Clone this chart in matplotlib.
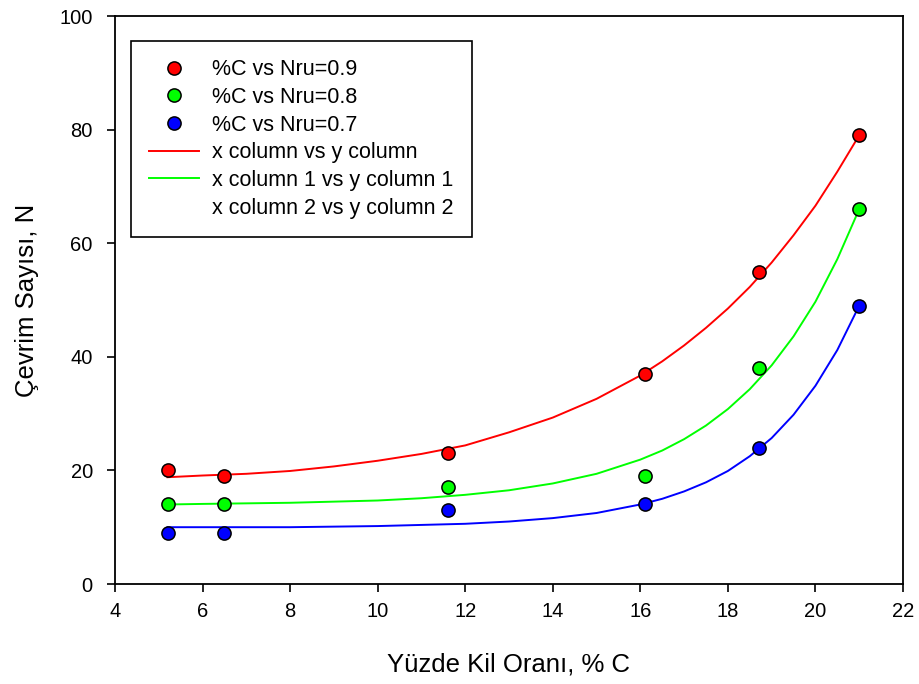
import matplotlib
matplotlib.use("Agg")
import matplotlib.pyplot as plt
from matplotlib.lines import Line2D

plt.rcParams['font.family'] = ['Liberation Sans', 'DejaVu Sans']

# Measured data points
clay_pct = [5.2, 6.5, 11.6, 16.1, 18.7, 21.0]
n_09 = [20, 19, 23, 37, 55, 79]
n_08 = [14, 14, 17, 19, 38, 66]
n_07 = [9, 9, 13, 14, 24, 49]

# Fitted curves
curve_x = [5.2, 6.0, 7.0, 8.0, 9.0, 10.0, 11.0, 12.0, 13.0, 14.0, 15.0, 16.0,
           16.5, 17.0, 17.5, 18.0, 18.5, 19.0, 19.5, 20.0, 20.5, 21.0]
curve_09 = [18.8, 19.1, 19.4, 19.9, 20.7, 21.7, 22.9, 24.4, 26.7, 29.3, 32.6, 36.7,
            39.2, 42.0, 45.1, 48.5, 52.3, 56.6, 61.4, 66.6, 72.6, 79.0]
curve_08 = [14.0, 14.1, 14.2, 14.3, 14.5, 14.7, 15.1, 15.7, 16.5, 17.7, 19.4, 21.9,
            23.5, 25.5, 27.9, 30.8, 34.3, 38.5, 43.6, 49.7, 57.2, 66.0]
curve_07 = [10.0, 10.0, 10.0, 10.0, 10.1, 10.2, 10.4, 10.6, 11.0, 11.6, 12.5, 14.0,
            15.0, 16.3, 17.9, 19.9, 22.5, 25.7, 29.8, 34.9, 41.2, 49.0]

x_ticks = [4, 6, 8, 10, 12, 14, 16, 18, 20, 22]
y_ticks = [0, 20, 40, 60, 80, 100]

fig = plt.figure(figsize=(9.2, 6.84), dpi=100)
ax = fig.add_axes([115/920, 1-584/684, 788/920, 568/684])

ax.plot(curve_x, curve_09, color='#ff0000', lw=1.4, zorder=2)
ax.plot(curve_x, curve_08, color='#00ff00', lw=1.4, zorder=2)
ax.plot(curve_x, curve_07, color='#0000ff', lw=1.4, zorder=2)

mk = dict(marker='o', ls='none', ms=9.5, mec='black', mew=1.1, zorder=3)
ax.plot(clay_pct, n_09, mfc='#ff0000', **mk)
ax.plot(clay_pct, n_08, mfc='#00ff00', **mk)
ax.plot(clay_pct, n_07, mfc='#0000ff', **mk)

ax.set_xlim(4, 22)
ax.set_ylim(0, 100)
ax.set_xticks(x_ticks)
ax.set_yticks(y_ticks)
ax.tick_params(axis='both', direction='out', length=6, width=1.2, labelsize=14.5,
               top=False, right=False)
ax.tick_params(axis='x', pad=7)
ax.tick_params(axis='y', pad=10)
for s in ax.spines.values():
    s.set_linewidth(1.3)

ax.set_xlabel('Yüzde Kil Oranı, % C', fontsize=18.5)
ax.set_ylabel('Çevrim Sayısı, N', fontsize=18.5)
ax.xaxis.set_label_coords(0.5, -0.12)
ax.yaxis.set_label_coords(-0.096, 0.5)

handles = [
    Line2D([], [], marker='o', ls='none', ms=9.5, mfc='#ff0000', mec='black', mew=1.1),
    Line2D([], [], marker='o', ls='none', ms=9.5, mfc='#00ff00', mec='black', mew=1.1),
    Line2D([], [], marker='o', ls='none', ms=9.5, mfc='#0000ff', mec='black', mew=1.1),
    Line2D([], [], color='#ff0000', lw=1.4),
    Line2D([], [], color='#00ff00', lw=1.4),
    Line2D([], [], color='none', lw=1.4),
]
labels = ['%C vs Nru=0.9', '%C vs Nru=0.8', '%C vs Nru=0.7',
          'x column vs y column', 'x column 1 vs y column 1', 'x column 2 vs y column 2']
leg = ax.legend(handles, labels, loc='upper left', bbox_to_anchor=(16/788, 1-25/568),
                borderaxespad=0, fontsize=15.5, frameon=True, fancybox=False,
                edgecolor='black', framealpha=1, handlelength=2.3, handletextpad=0.6,
                labelspacing=0.31, borderpad=0.85)
leg.get_frame().set_linewidth(1.2)

fig.savefig('out.png', dpi=100)
